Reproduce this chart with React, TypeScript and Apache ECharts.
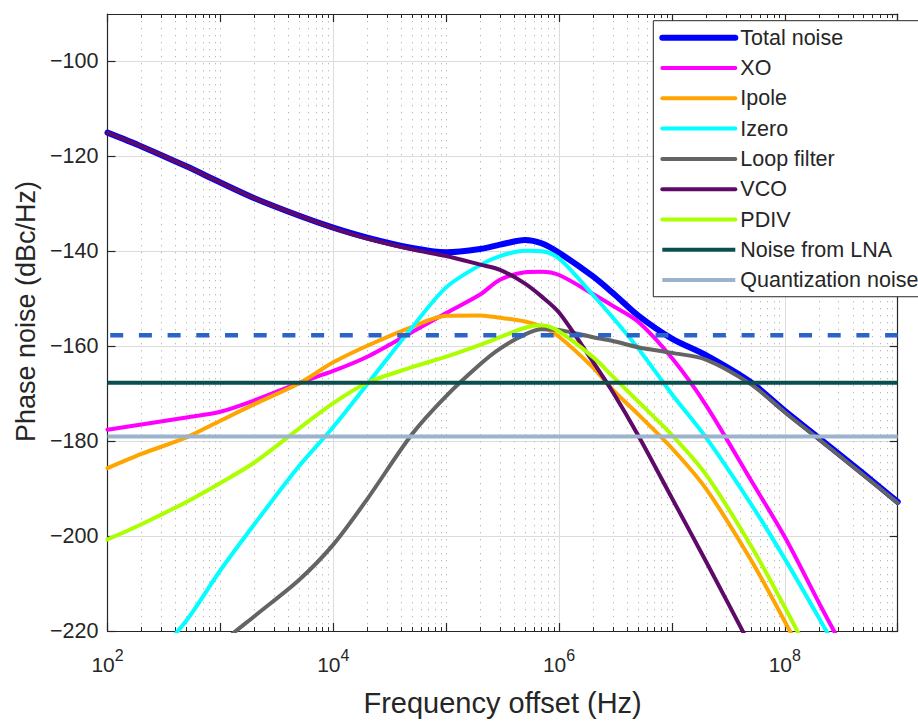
import React, { useEffect, useRef } from "react";
import * as echarts from "echarts";

// Frequency offsets (Hz) at which the curves were read
const freq = [
  1e2, 2e2, 5e2, 1e3, 2e3, 5e3, 1e4, 2e4, 5e4, 1e5, 2e5, 3e5, 5e5, 7e5,
  1e6, 2e6, 3e6, 5e6, 1e7, 2e7, 5e7, 1e8, 2e8, 5e8, 1e9,
];

// Phase noise (dBc/Hz)
const totalNoise = [
  -115.0, -117.9, -122.1, -125.5, -128.8, -132.5, -135.0, -137.1, -139.3, -140.2,
  -139.5, -138.6, -137.6, -138.3, -140.3, -145.3, -148.8, -153.5, -158.4, -161.9,
  -167.6, -173.6, -179.3, -186.9, -192.8,
];
const xo = [
  -177.6, -176.5, -175.0, -173.8, -171.4, -167.7, -165.2, -162.2, -157.0, -153.0,
  -149.1, -146.0, -144.4, -144.3, -145.0, -149.0, -151.5, -154.8, -162.5, -172.4,
  -188.2, -200.2, -214.0, -232.0, -248.0,
];
const ipole = [
  -185.7, -182.7, -179.2, -175.7, -172.2, -167.8, -163.4, -159.9, -155.9, -153.6,
  -153.5, -154.0, -154.8, -155.9, -158.0, -164.5, -169.2, -174.3, -181.5, -190.0,
  -205.0, -218.0, -232.0, -254.0, -272.0,
];
const izero = [
  -240.0, -229.0, -217.8, -207.2, -197.5, -185.2, -177.0, -168.0, -156.0, -147.6,
  -142.9, -141.0, -139.9, -140.0, -141.5, -149.2, -154.0, -160.4, -170.1, -179.2,
  -193.2, -204.8, -217.2, -234.0, -250.0,
];
const loopFilter = [
  -250.0, -244.0, -232.0, -222.9, -216.9, -209.2, -201.8, -192.2, -178.5, -170.5,
  -163.8, -160.5, -157.5, -156.4, -156.6, -158.1, -158.9, -160.2, -161.4, -162.8,
  -168.0, -173.9, -179.6, -187.2, -193.0,
];
const vco = [
  -115.0, -117.9, -122.1, -125.5, -128.8, -132.5, -135.1, -137.3, -139.6, -141.0,
  -142.8, -143.9, -146.8, -149.5, -152.9, -163.3, -169.7, -178.7, -192.0, -205.3,
  -223.3, -237.0, -251.0, -269.0, -282.0,
];
const pdiv = [
  -200.7, -197.5, -192.8, -188.8, -184.5, -177.3, -172.0, -167.7, -164.4, -162.2,
  -159.7, -158.1, -156.1, -155.6, -156.9, -162.3, -166.4, -171.6, -178.7, -187.0,
  -202.0, -215.0, -229.0, -250.0, -268.0,
];

// Constant levels
const lnaLevel = -167.7;
const quantLevel = -179.0;
const limitLevel = -157.7;
const levelSpan = [1e2, 1e9];

const yTicks = [-220, -200, -180, -160, -140, -120, -100];

const seriesNames = [
  "Total noise",
  "XO",
  "Ipole",
  "Izero",
  "Loop filter",
  "VCO",
  "PDIV",
  "Noise from LNA",
  "Quantization noise",
];

const FONT = "'Liberation Sans', Arial, Helvetica, sans-serif";
const TXT = "#262626";

function pairs(ys: number[]) {
  return freq.map((f, i) => [f, ys[i]]);
}
function flat(level: number) {
  return levelSpan.map((f) => [f, level]);
}

export default function App() {
  const ref = useRef<HTMLDivElement>(null);

  useEffect(() => {
    if (!ref.current) return;
    const chart = echarts.init(ref.current, null, { renderer: "svg" });

    const curve = (name: string, ys: number[], color: string, width: number) => ({
      name,
      type: "line",
      data: pairs(ys),
      showSymbol: false,
      symbol: "none",
      smooth: 0.3,
      clip: true,
      lineStyle: { color, width, cap: "round", join: "round" },
      itemStyle: { color },
      emphasis: { disabled: true },
    });
    const level = (name: string, lv: number, color: string, width: number, extra: any = {}) => ({
      name,
      type: "line",
      data: flat(lv),
      showSymbol: false,
      symbol: "none",
      lineStyle: { color, width, ...extra },
      itemStyle: { color },
      emphasis: { disabled: true },
    });

    const xLabel = (v: number) => {
      const e = Math.round(Math.log10(v));
      if (e % 2 !== 0) return "";
      return `{b|10}{s|${e}}`;
    };

    const option: any = {
      animation: false,
      textStyle: { fontFamily: FONT },
      grid: { left: 107.5, right: 20.3, top: 14, bottom: 89.7, containLabel: false },
      xAxis: [
        {
          type: "log",
          logBase: 10,
          min: 1e2,
          max: 1e9,
          position: "bottom",
          name: "Frequency offset (Hz)",
          nameLocation: "middle",
          nameGap: 57,
          nameTextStyle: { fontSize: 29, color: TXT, fontFamily: FONT },
          axisLine: { show: true, lineStyle: { color: TXT, width: 1.2 } },
          axisTick: { show: true, inside: true, length: 8, lineStyle: { color: TXT, width: 1.2 } },
          minorTick: { show: true, splitNumber: 9, length: 4, lineStyle: { color: TXT, width: 1 } },
          axisLabel: {
            formatter: xLabel,
            margin: 16,
            color: TXT,
            rich: {
              b: { fontSize: 21, color: TXT, fontFamily: FONT, verticalAlign: "bottom", lineHeight: 28 },
              s: { fontSize: 16, color: TXT, fontFamily: FONT, verticalAlign: "top", lineHeight: 28 },
            },
          },
          splitLine: {
            show: true,
            lineStyle: { color: ["#dcdcdc", "rgba(0,0,0,0)"], width: 1 },
          },
          minorSplitLine: {
            show: true,
            lineStyle: { color: "#b8b8b8", width: 1, type: [1.3, 5.7] },
          },
        },
        {
          type: "log",
          logBase: 10,
          min: 1e2,
          max: 1e9,
          position: "top",
          axisLine: { show: true, lineStyle: { color: TXT, width: 1.2 } },
          axisTick: { show: true, inside: true, length: 8, lineStyle: { color: TXT, width: 1.2 } },
          minorTick: { show: true, splitNumber: 9, length: 4, lineStyle: { color: TXT, width: 1 } },
          axisLabel: { show: false },
          splitLine: {
            show: true,
            lineStyle: { color: ["rgba(0,0,0,0)", "#b8b8b8"], width: 1, type: [1.3, 5.7] },
          },
        },
      ],
      yAxis: [
        {
          type: "value",
          min: -220,
          max: -90,
          interval: 20,
          position: "left",
          name: "Phase noise (dBc/Hz)",
          nameLocation: "middle",
          nameRotate: 90,
          nameGap: 68,
          nameTextStyle: { fontSize: 27, color: TXT, fontFamily: FONT, padding: [0, 0, 0, 22] },
          axisLine: { show: true, lineStyle: { color: TXT, width: 1.2 } },
          axisTick: { show: true, inside: true, length: 8, lineStyle: { color: TXT, width: 1.2 } },
          axisLabel: {
            showMaxLabel: false,
            margin: 9,
            fontSize: 21.5,
            color: TXT,
            fontFamily: FONT,
            formatter: (v: number) => (yTicks.includes(v) ? String(v).replace("-", "\u2212") : ""),
          },
          splitLine: { show: true, lineStyle: { color: "#dcdcdc", width: 1 } },
        },
        {
          type: "value",
          min: -220,
          max: -90,
          interval: 20,
          position: "right",
          axisLine: { show: true, lineStyle: { color: TXT, width: 1.2 } },
          axisTick: { show: true, inside: true, length: 8, lineStyle: { color: TXT, width: 1.2 } },
          axisLabel: { show: false },
          splitLine: { show: false },
        },
      ],
      legend: {
        show: true,
        orient: "vertical",
        left: 653.3,
        top: 20.7,
        data: seriesNames,
        itemWidth: 73,
        itemHeight: 30.3,
        itemGap: 6.06,
        padding: [4.9, 14, 4.5, 6],
        backgroundColor: "#ffffff",
        borderColor: TXT,
        borderWidth: 1,
        borderRadius: 0,
        selectedMode: false,
        textStyle: { fontSize: 21.5, color: TXT, fontFamily: FONT },
        lineStyle: { width: "inherit" },
        itemStyle: { opacity: 0 },
        z: 10,
      },
      series: [
        curve("Total noise", totalNoise, "#0000ff", 6),
        curve("XO", xo, "#ff00ff", 4),
        curve("Ipole", ipole, "#ffa500", 4),
        curve("Izero", izero, "#00ffff", 4),
        curve("Loop filter", loopFilter, "#646464", 4),
        curve("VCO", vco, "#5e0a68", 4),
        curve("PDIV", pdiv, "#acff00", 4),
        level("Noise from LNA", lnaLevel, "#0a4e4e", 4),
        level("Quantization noise", quantLevel, "#9bb3cd", 4),
        level("Limit", limitLevel, "#2a64c8", 4.5, { type: [13, 15.7], dashOffset: 26.2 }),
      ],
    };

    chart.setOption(option);
    return () => chart.dispose();
  }, []);

  return (
    <div
      ref={ref}
      style={{ position: "fixed", left: 0, top: 0, width: 918, height: 722, background: "#ffffff" }}
    />
  );
}
